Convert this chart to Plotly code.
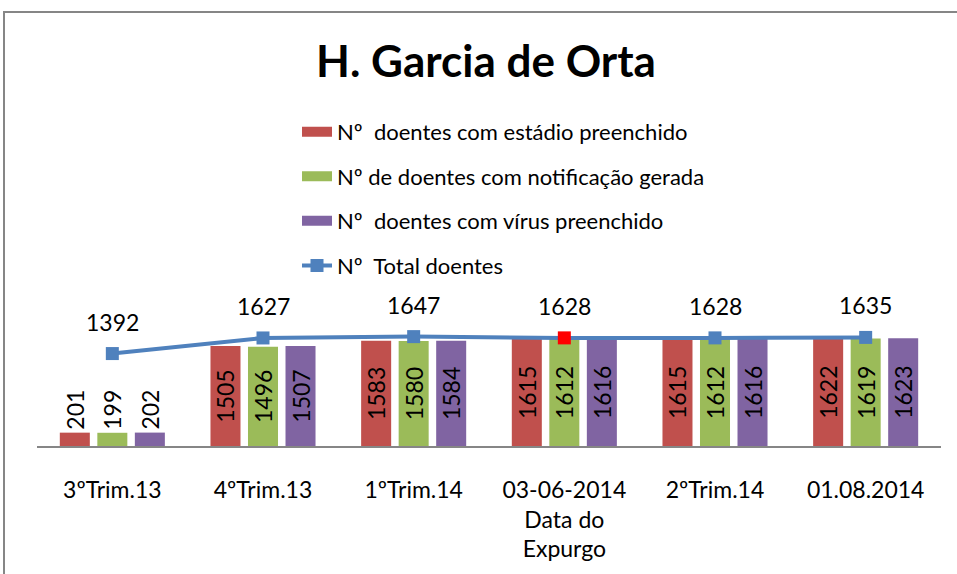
import plotly.graph_objects as go

categories = ["3ºTrim.13", "4ºTrim.13", "1ºTrim.14", "03-06-2014<br>Data do<br>Expurgo", "2ºTrim.14", "01.08.2014"]
estadio = [201, 1505, 1583, 1615, 1615, 1622]
notificacao = [199, 1496, 1580, 1612, 1612, 1619]
virus = [202, 1507, 1584, 1616, 1616, 1623]
total = [1392, 1627, 1647, 1628, 1628, 1635]

names = ["Nº\u00a0 doentes com estádio preenchido",
         "Nº de doentes com notificação gerada",
         "Nº\u00a0 doentes com vírus preenchido",
         "Nº\u00a0 Total doentes"]
colors = ["#C0504D", "#9BBB59", "#8064A2", "#4F81BD"]
highlight = "#FF0000"

FONT = "Lato, 'Open Sans', sans-serif"
fig = go.Figure()

for vals, col, nm in zip([estadio, notificacao, virus], colors[:3], names[:3]):
    fig.add_trace(go.Bar(
        x=categories, y=vals, name=nm, marker=dict(color=col, line=dict(width=0)),
        text=[str(v) for v in vals], textposition="auto", textangle=-90,
        insidetextanchor="middle", constraintext="none",
        insidetextfont=dict(color="black", size=23, family=FONT),
        outsidetextfont=dict(color="black", size=23, family=FONT),
        showlegend=False, cliponaxis=False, hoverinfo="skip"))

# legend entries (wide swatches)
for i in range(3):
    fig.add_trace(go.Scatter(x=[None], y=[None], mode="lines", name=names[i],
                             line=dict(color=colors[i], width=14),
                             legendgroup=f"g{i}", legendrank=i + 1))

marker_colors = [highlight if c.startswith("03-06-2014") else colors[3] for c in categories]
fig.add_trace(go.Scatter(
    x=categories, y=total, mode="lines+markers", name=names[3],
    line=dict(color=colors[3], width=4),
    marker=dict(symbol="square", size=13, color=marker_colors),
    legendgroup="g3", legendrank=4, cliponaxis=False))

for c, t in zip(categories, total):
    fig.add_annotation(x=c, y=t, text=str(t), showarrow=False, yshift=32,
                       font=dict(size=23, color="black", family=FONT))

# chart frame
fig.add_shape(type="rect", xref="paper", yref="paper",
              x0=(4 - 37) / 904, x1=(975 - 37) / 904,
              y0=(450 - 590) / 350, y1=(450 - 11) / 350,
              line=dict(color="#868686", width=2), fillcolor="rgba(0,0,0,0)")

fig.update_layout(
    width=957, height=574,
    margin=dict(l=37, r=16, t=100, b=124),
    paper_bgcolor="white", plot_bgcolor="white",
    font=dict(family=FONT, color="black"),
    title=dict(text="<b>H. Garcia de Orta</b>", x=486 / 957, xanchor="center",
               y=1 - 62 / 574, yanchor="middle",
               font=dict(size=44, family=FONT, color="black")),
    barmode="group", bargap=0.253, bargroupgap=0.2,
    showlegend=True,
    legend=dict(x=(297 - 37) / 904, xanchor="left", y=(450 - 111) / 350, yanchor="top",
                font=dict(size=22, family=FONT, color="black"),
                tracegroupgap=13, bgcolor="rgba(0,0,0,0)", traceorder="grouped"),
    xaxis=dict(showline=True, linecolor="#868686", linewidth=2, ticks="",
               tickfont=dict(size=23, family=FONT, color="black"),
               ticklabelstandoff=22, showgrid=False, zeroline=False),
    yaxis=dict(range=[0, 5210], visible=False, showgrid=False, zeroline=False),
)

fig.write_html("out.html", config={"displayModeBar": False},
               post_script="document.body.style.margin='0';")
